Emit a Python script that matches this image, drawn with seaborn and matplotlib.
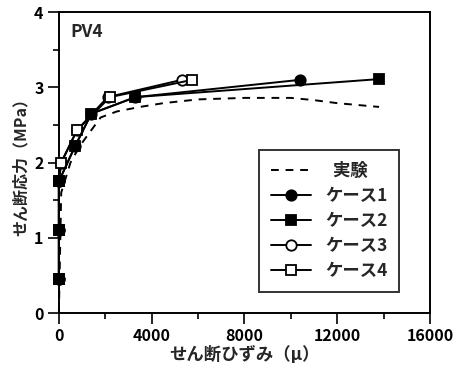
import matplotlib
matplotlib.use("Agg")
import matplotlib.pyplot as plt
import seaborn as sns
import pandas as pd

sns.set_theme(style="ticks")
plt.rcParams["font.family"] = ["Noto Sans CJK JP", "DejaVu Sans"]
plt.rcParams["font.weight"] = "bold"

# せん断ひずみ (μ) と せん断応力 (MPa)
exp_strain = [0, 100, 500, 900, 1300, 1800, 2500, 3500, 4500, 6000, 8000, 10000, 11000, 12000, 13800]
exp_stress = [0, 1.6, 2.0, 2.22, 2.39, 2.6, 2.68, 2.74, 2.79, 2.84, 2.86, 2.86, 2.83, 2.79, 2.74]

case1_strain = [0, 0, 0, 700, 1400, 3300, 10400]
case1_stress = [0.45, 1.1, 1.75, 2.22, 2.65, 2.87, 3.1]

case2_strain = [0, 0, 0, 700, 1400, 3300, 13800]
case2_stress = [0.45, 1.1, 1.75, 2.22, 2.65, 2.87, 3.11]

case3_strain = [0, 0, 0, 100, 780, 2100, 5300]
case3_stress = [0.45, 1.1, 1.75, 2.0, 2.43, 2.87, 3.1]

case4_strain = [0, 0, 0, 100, 780, 2200, 5750]
case4_stress = [0.45, 1.1, 1.75, 2.0, 2.43, 2.87, 3.1]

labels = ["  実験", "ケース1", "ケース2", "ケース3", "ケース4"]
x_ticks = [0, 4000, 8000, 12000, 16000]
y_ticks = [0, 1, 2, 3, 4]

fig = plt.figure(figsize=(4.6, 3.79), dpi=100)
ax = fig.add_axes([0.128, 0.174, 0.807, 0.794])

lw = 1.4
ms = 7.5

sns.lineplot(x=exp_strain, y=exp_stress, ax=ax, sort=False, color="black",
             lw=lw, dashes=False, linestyle=(0, (4, 3.5)), label=labels[0],
             zorder=2, clip_on=False)

series = [
    (case3_strain, case3_stress, "o", "white", labels[3], 3),
    (case4_strain, case4_stress, "s", "white", labels[4], 3),
    (case1_strain, case1_stress, "o", "black", labels[1], 4),
    (case2_strain, case2_stress, "s", "black", labels[2], 5),
]
for xs, ys, mk, fc, lab, z in series:
    df = pd.DataFrame({"x": xs, "y": ys})
    sns.lineplot(data=df, x="x", y="y", ax=ax, sort=False, estimator=None,
                 color="black", lw=lw, marker=mk, markersize=ms,
                 markerfacecolor=fc, markeredgecolor="black",
                 markeredgewidth=1.3, label=lab, zorder=z, clip_on=False)

ax.set_xlim(0, 16000)
ax.set_ylim(0, 4)
ax.set_xticks(x_ticks)
ax.set_yticks(y_ticks)
ax.set_xticks([2000, 6000, 10000, 14000], minor=True)
ax.set_yticks([0.5, 1.5, 2.5, 3.5], minor=True)
ax.tick_params(axis="both", which="major", direction="out", length=8, width=1.2,
               labelsize=11.5, pad=3, color="black", labelcolor="black")
ax.tick_params(axis="both", which="minor", direction="out", length=4, width=1.2,
               color="black")
for lab in ax.get_xticklabels() + ax.get_yticklabels():
    lab.set_fontweight("bold")
for sp in ax.spines.values():
    sp.set_visible(True)
    sp.set_color("black")
    sp.set_linewidth(1.4)

ax.set_xlabel("せん断ひずみ（μ）", fontsize=12.5, fontweight="bold", labelpad=1)
ax.set_ylabel("せん断応力（MPa）", fontsize=11.5, fontweight="bold", labelpad=4)
ax.text(0.03, 0.935, "PV4", transform=ax.transAxes, fontsize=12.5,
        fontweight="bold", va="center", ha="left")

h, l = ax.get_legend_handles_labels()
order = [l.index(x) for x in labels]
leg = ax.legend([h[i] for i in order], [l[i] for i in order],
                loc="upper left", bbox_to_anchor=(0.539, 0.541),
                borderaxespad=0, frameon=True, fancybox=False,
                edgecolor="black", fontsize=12.5, handlelength=2.3,
                labelspacing=0.4, borderpad=0.7, handletextpad=0.8)
leg.get_frame().set_linewidth(1.4)
for t in leg.get_texts():
    t.set_fontweight("bold")

fig.savefig("out.png", dpi=100)
